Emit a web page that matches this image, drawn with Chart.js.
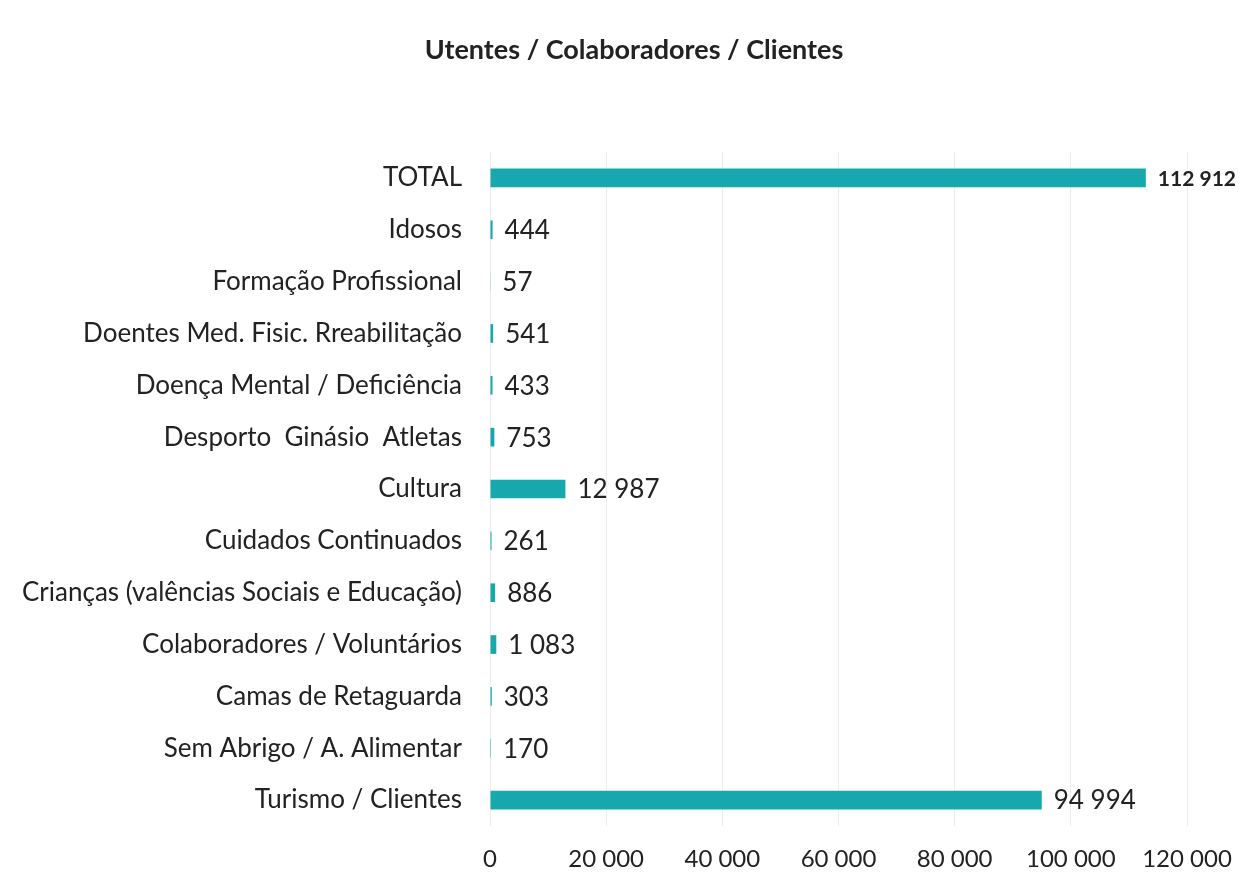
<!DOCTYPE html>
<html>
<head>
<meta charset="utf-8">
<script src="https://cdn.jsdelivr.net/npm/chart.js"></script>
<style>
  html, body { margin: 0; padding: 0; background: #fff; }
  #wrap { width: 1251px; height: 890px; }
</style>
</head>
<body>
<div id="wrap"><canvas id="chart"></canvas></div>
<script>
const chartTitle = "Utentes / Colaboradores / Clientes";
const categories = [
  "TOTAL",
  "Idosos",
  "Formação Profissional",
  "Doentes Med. Fisic. Rreabilitação",
  "Doença Mental / Deficiência",
  "Desporto  Ginásio  Atletas",
  "Cultura",
  "Cuidados Continuados",
  "Crianças (valências Sociais e Educação)",
  "Colaboradores / Voluntários",
  "Camas de Retaguarda",
  "Sem Abrigo / A. Alimentar",
  "Turismo / Clientes"
];
const values = [112912, 444, 57, 541, 433, 753, 12987, 261, 886, 1083, 303, 170, 94994];
const xTicks = [0, 20000, 40000, 60000, 80000, 100000, 120000];

const FONT = "Lato, 'Open Sans', sans-serif";
const fmt = v => String(v).replace(/\B(?=(\d{3})+(?!\d))/g, " ");

// value labels to the right of each bar
const valueLabels = {
  id: "valueLabels",
  afterDatasetsDraw(chart) {
    const ctx = chart.ctx;
    const meta = chart.getDatasetMeta(0);
    ctx.save();
    ctx.fillStyle = "#222";
    ctx.textBaseline = "middle";
    ctx.textAlign = "left";
    meta.data.forEach((bar, i) => {
      ctx.font = i === 0 ? "bold 21px " + FONT : "26px " + FONT;
      ctx.fillText(fmt(values[i]), bar.x + 12, bar.y + 1);
    });
    ctx.restore();
  }
};

// title centred on the page, not on the padded area
const pageTitle = {
  id: "pageTitle",
  afterDraw(chart) {
    const ctx = chart.ctx;
    ctx.save();
    ctx.fillStyle = "#222";
    ctx.font = "bold 27px " + FONT;
    ctx.textAlign = "center";
    ctx.textBaseline = "middle";
    ctx.fillText(chartTitle, 634, 50);
    ctx.restore();
  }
};

function draw() {
  new Chart(document.getElementById("chart"), {
    type: "bar",
    data: {
      labels: categories,
      datasets: [{
        data: values,
        backgroundColor: "#16a8ad",
        barPercentage: 0.36,
        categoryPercentage: 1
      }]
    },
    options: {
      indexAxis: "y",
      responsive: true,
      maintainAspectRatio: false,
      animation: false,
      layout: { padding: { top: 152, right: 64, bottom: 4, left: 23 } },
      plugins: {
        legend: { display: false },
        tooltip: { enabled: false },
        title: { display: false }
      },
      scales: {
        x: {
          min: 0,
          max: 120000,
          afterBuildTicks(axis) { axis.ticks = xTicks.map(v => ({ value: v })); },
          afterFit(axis) { axis.height = 60; },
          grid: { color: "#ececec", drawTicks: false },
          border: { display: false },
          ticks: {
            color: "#222",
            padding: 19,
            font: { family: FONT, size: 24 },
            maxRotation: 0,
            callback: v => fmt(v)
          }
        },
        y: {
          afterFit(axis) { axis.width = 467; },
          grid: { display: false, drawTicks: false },
          border: { display: false },
          ticks: {
            color: "#222",
            padding: 28,
            font: { family: FONT, size: 26 }
          }
        }
      }
    },
    plugins: [valueLabels, pageTitle]
  });
}

Promise.all([
  document.fonts.load("26px Lato"),
  document.fonts.load("bold 27px Lato")
]).then(draw, draw);
</script>
</body>
</html>
